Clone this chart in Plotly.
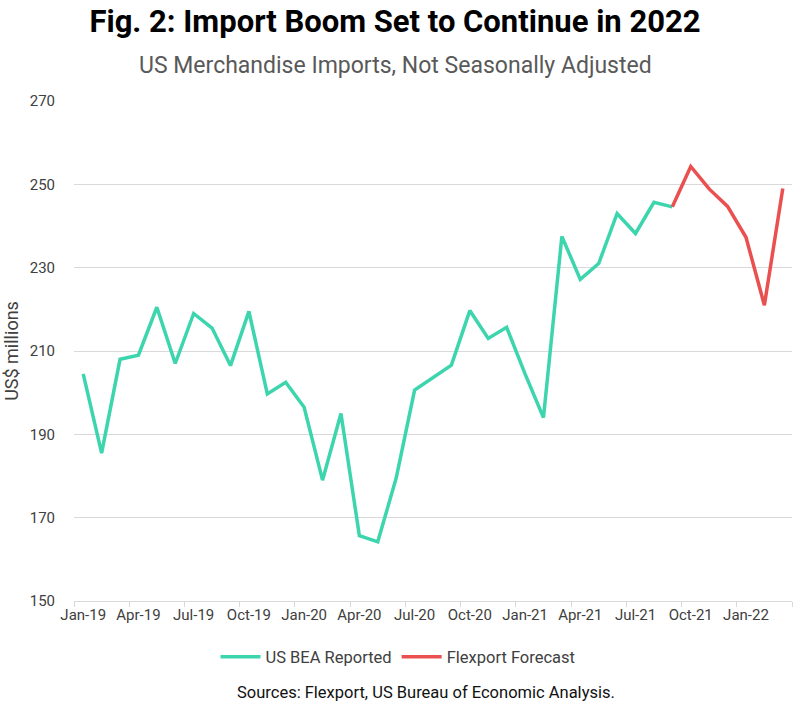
import plotly.graph_objects as go

months = ["Jan-19", "Feb-19", "Mar-19", "Apr-19", "May-19", "Jun-19", "Jul-19", "Aug-19", "Sep-19",
          "Oct-19", "Nov-19", "Dec-19", "Jan-20", "Feb-20", "Mar-20", "Apr-20", "May-20", "Jun-20",
          "Jul-20", "Aug-20", "Sep-20", "Oct-20", "Nov-20", "Dec-20", "Jan-21", "Feb-21", "Mar-21",
          "Apr-21", "May-21", "Jun-21", "Jul-21", "Aug-21", "Sep-21", "Oct-21", "Nov-21", "Dec-21",
          "Jan-22", "Feb-22", "Mar-22"]

reported_months = months[:33]
reported = [204.5, 185.5, 208.0, 209.0, 220.5, 207.0, 219.0, 215.5, 206.5,
            219.5, 199.7, 202.5, 196.5, 179.0, 195.0, 165.7, 164.2, 179.5,
            200.6, 203.5, 206.6, 219.7, 213.0, 215.7, 204.5, 194.0, 237.5,
            227.2, 231.0, 243.0, 238.2, 245.7, 244.6]

forecast_months = months[32:]
forecast = [244.6, 254.3, 248.9, 244.7, 237.3, 221.0, 249.0]

TEAL = "#3dd5ae"
RED = "#e9504f"
FONT = "Roboto"

W, H = 800, 706
ML, MR, MT, MB = 74, 8, 101, 105
PW, PH = W - ML - MR, H - MT - MB


def px_x(x):
    return (x - ML) / PW


def px_y(y):
    return (H - MB - y) / PH


fig = go.Figure()
fig.add_trace(go.Scatter(x=reported_months, y=reported, mode="lines", name="US BEA Reported",
                         line=dict(color=TEAL, width=3.5)))
fig.add_trace(go.Scatter(x=forecast_months, y=forecast, mode="lines", name="Flexport Forecast",
                         line=dict(color=RED, width=3.5)))

fig.update_layout(
    width=W, height=H,
    margin=dict(l=ML, r=MR, t=MT, b=MB),
    paper_bgcolor="white", plot_bgcolor="white",
    font=dict(family=FONT, color="#404040", size=15),
    title=dict(text="<b>Fig. 2: Import Boom Set to Continue in 2022</b>",
               x=px_x(395), xref="paper", xanchor="center", y=1 - 21 / H, yanchor="middle",
               font=dict(family=FONT, size=31, color="#000000")),
    showlegend=True,
    legend=dict(orientation="h", x=px_x(398), xanchor="center", y=px_y(657), yanchor="middle",
                font=dict(size=16.5, color="#404040"), itemwidth=40, tracegroupgap=0),
    annotations=[
        dict(text="US Merchandise Imports, Not Seasonally Adjusted", x=px_x(395), xref="paper",
             y=px_y(66), yref="paper", showarrow=False, font=dict(size=23, color="#595959"),
             xanchor="center", yanchor="middle"),
        dict(text="Sources: Flexport, US Bureau of Economic Analysis.", x=px_x(426), xref="paper",
             y=px_y(692), yref="paper", showarrow=False, font=dict(size=16.5, color="#111111"),
             xanchor="center", yanchor="middle"),
    ],
)

fig.update_xaxes(type="category", categoryorder="array", categoryarray=months,
                 range=[-0.5, 38.5], dtick=3, tick0=0, tickson="boundaries", tickangle=0,
                 ticks="outside", ticklen=5, tickcolor="#d9d9d9", tickwidth=1,
                 showgrid=False, showline=True, linecolor="#d9d9d9", linewidth=1,
                 tickfont=dict(size=15, color="#404040"), zeroline=False)
fig.update_yaxes(range=[150, 270], dtick=20, tick0=150, showgrid=True, gridcolor="#d9d9d9",
                 gridwidth=1, zeroline=False, showline=False, ticks="",
                 ticklabelstandoff=18,
                 tickfont=dict(size=15, color="#404040"),
                 title=dict(text="US$ millions", font=dict(size=18, color="#404040"), standoff=6))

fig.write_html("out.html")
